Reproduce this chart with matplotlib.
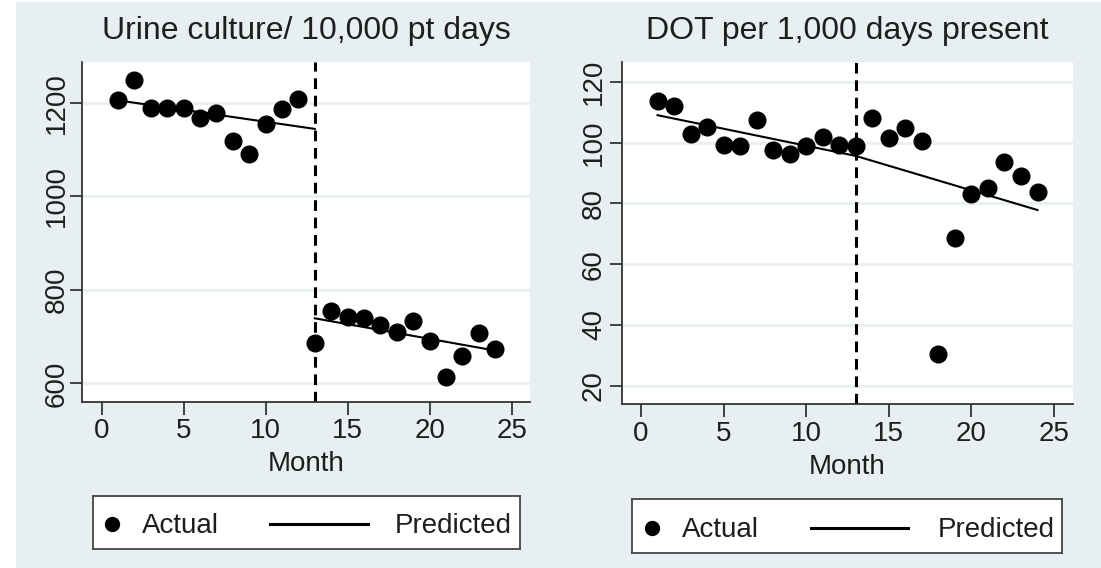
import matplotlib
matplotlib.use('Agg')
import matplotlib.pyplot as plt
from matplotlib.patches import Rectangle

plt.rcParams['font.family'] = ['Liberation Sans', 'DejaVu Sans']

# data
months = [1, 2, 3, 4, 5, 6, 7, 8, 9, 10, 11, 12,
          13, 14, 15, 16, 17, 18, 19, 20, 21, 22, 23, 24]
urine_actual = [1205, 1248, 1189, 1189, 1189, 1168, 1177, 1118, 1091, 1154, 1186, 1209,
                687, 754, 742, 739, 724, 710, 733, 690, 613, 658, 708, 673]
urine_pred_pre_x = [1, 13]
urine_pred_pre_y = [1205, 1144]
urine_pred_post_x = [13, 24]
urine_pred_post_y = [739, 670]

dot_actual = [113.6, 112.1, 102.7, 105.0, 99.2, 98.9, 107.4, 97.5, 96.2, 98.9, 101.7, 99.2,
              98.9, 108.0, 101.6, 104.7, 100.5, 30.3, 68.7, 83.0, 85.1, 93.7, 89.1, 83.6]
dot_pred_x = [1, 13, 24]
dot_pred_y = [109.0, 95.6, 77.8]

intervention = 13
titles = ['Urine culture/ 10,000 pt days', 'DOT per 1,000 days present']
xticks = [0, 5, 10, 15, 20, 25]
urine_yticks = [600, 800, 1000, 1200]
dot_yticks = [20, 40, 60, 80, 100, 120]

BG = '#e8eff1'
GRID = '#e9f0f2'
AXC = '#333333'
TXT = '#1e1e1e'
W, H = 1101, 568


def fx(px):
    return px / W


def fy(py):
    return 1 - py / H


fig = plt.figure(figsize=(11.01, 5.68), dpi=100, facecolor='white')
fig.patches.append(Rectangle((fx(16), 0), 1 - fx(16), fy(2), transform=fig.transFigure,
                             facecolor=BG, edgecolor='none', zorder=-10))


def panel(box, title, actual, pred_parts, yticks, xlim, ylim, ypad):
    l, t, r, b = box
    ax = fig.add_axes([fx(l), fy(b), fx(r - l), (b - t) / H])
    ax.set_facecolor('white')
    for s in ['top', 'right']:
        ax.spines[s].set_visible(False)
    for s in ['left', 'bottom']:
        ax.spines[s].set_color(AXC)
        ax.spines[s].set_linewidth(1.3)
    ax.set_xlim(xlim)
    ax.set_ylim(ylim)
    ax.set_xticks(xticks)
    ax.set_yticks(yticks)
    ax.tick_params(axis='both', length=9, width=1.3, color=AXC, labelsize=20, labelcolor=TXT)
    ax.tick_params(axis='x', pad=3)
    ax.tick_params(axis='y', pad=ypad)
    for lab in ax.get_yticklabels():
        lab.set_rotation(90)
        lab.set_va('center')
    ax.yaxis.grid(True, color=GRID, lw=2.2)
    ax.set_axisbelow(True)
    ax.set_xlabel('Month', fontsize=20, labelpad=5, color=TXT)
    ax.set_title(title, fontsize=23, pad=16, color=TXT)

    ax.axvline(intervention, color='black', lw=2.2, ls=(0, (3.5, 2.2)), zorder=2)
    for px, py in pred_parts:
        ax.plot(px, py, color='black', lw=1.5, zorder=3)
    ax.plot(months, actual, 'o', color='black', ms=12, zorder=4, clip_on=False)
    return ax


panel((82.3, 61.7, 530, 401.7), titles[0], urine_actual,
      [(urine_pred_pre_x, urine_pred_pre_y), (urine_pred_post_x, urine_pred_post_y)],
      urine_yticks, (-1.18, 26.12), (560.7, 1287.7), 0)
panel((621.7, 61.7, 1072.7, 404), titles[1], dot_actual,
      [(dot_pred_x, dot_pred_y)],
      dot_yticks, (-1.17, 26.13), (13.98, 126.6), 1.5)


def legend_box(box, mx, tx, lx0, lx1, px):
    l, t, r, b = box
    lax = fig.add_axes([fx(l), fy(b), fx(r - l), (b - t) / H])
    lax.set_xlim(0, 1)
    lax.set_ylim(0, 1)
    lax.set_xticks([])
    lax.set_yticks([])
    lax.set_facecolor('white')
    for s in lax.spines.values():
        s.set_color('#444444')
        s.set_linewidth(1.3)
    lax.plot([mx], [0.47], 'o', color='black', ms=10)
    lax.text(tx, 0.43, 'Actual', fontsize=20, va='center', ha='left', color=TXT)
    lax.plot([lx0, lx1], [0.47, 0.47], color='black', lw=2.2)
    lax.text(px, 0.43, 'Predicted', fontsize=20, va='center', ha='right', color=TXT)


legend_box((93, 496, 520, 549), 0.0445, 0.1148, 0.4145, 0.644, 0.9813)
legend_box((632, 499, 1062, 553), 0.0458, 0.1155, 0.4155, 0.6426, 0.9837)

fig.savefig('out.png', dpi=100, facecolor='white')
